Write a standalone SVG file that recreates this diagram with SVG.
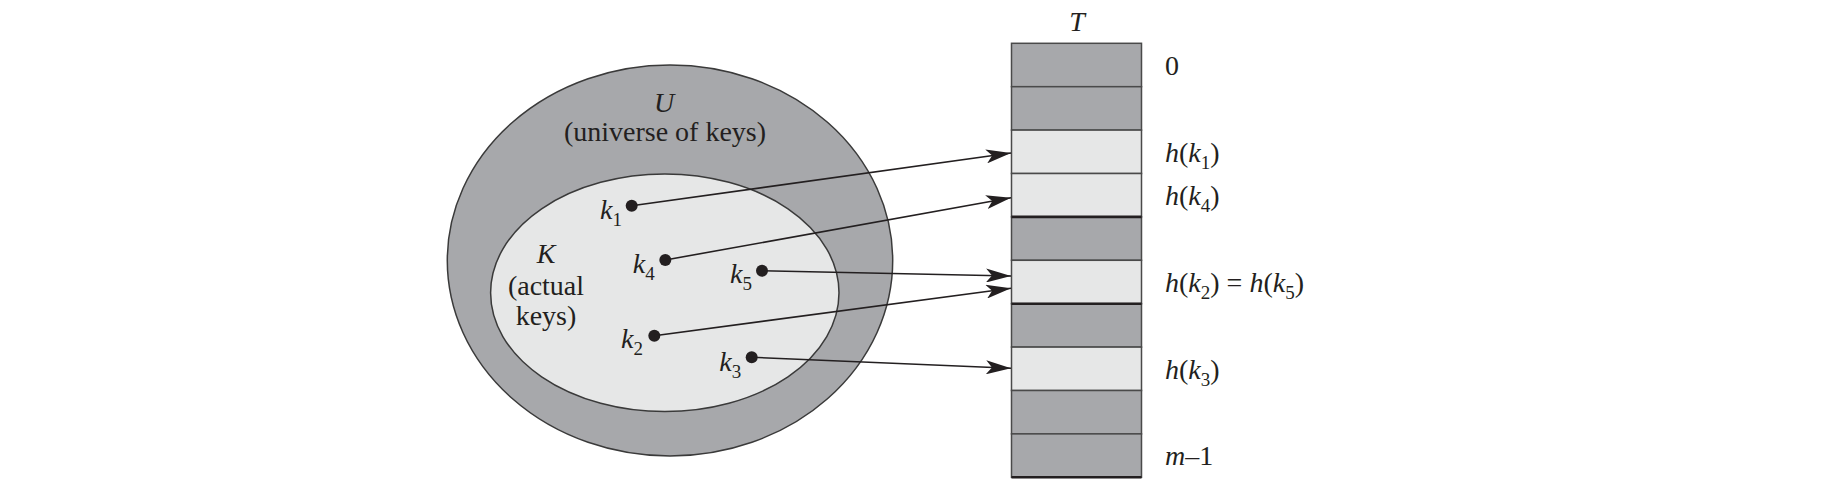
<svg xmlns="http://www.w3.org/2000/svg" width="1840" height="491" viewBox="0 0 1840 491">
<style>
.t{font-family:"Liberation Serif","Times New Roman",serif;font-size:28px;fill:#231f20}
.i{font-style:italic}
.sub{font-size:19px;font-style:normal}
.dark{fill:#a7a8ab;stroke:#4a4a4a;stroke-width:1.5}
.light{fill:#e6e7e7;stroke:#4a4a4a;stroke-width:1.5}
.thick{stroke:#231f20;stroke-width:2.6}
.conn{stroke:#231f20;stroke-width:1.6;fill:none;marker-end:url(#ah)}
.dot{fill:#231f20}
</style>
<defs>
<marker id="ah" viewBox="0 0 25 14" markerWidth="25" markerHeight="14" refX="25" refY="7" orient="auto" markerUnits="userSpaceOnUse">
<path d="M0,0 L25,7 L0,14 L6,7 Z" fill="#231f20"/>
</marker>
</defs>
<rect width="1840" height="491" fill="#ffffff"/>
<g id="universe">
<ellipse cx="670" cy="260.5" rx="222.7" ry="195.5" fill="#a7a8ab" stroke="#3a3a3a" stroke-width="1.5"/>
<text class="t i" x="664" y="112" text-anchor="middle">U</text>
<text class="t" x="665" y="141" text-anchor="middle">(universe of keys)</text>
</g>
<g id="actual-keys">
<ellipse cx="664.8" cy="292.8" rx="174.2" ry="118.8" fill="#e6e7e7" stroke="#3a3a3a" stroke-width="1.5"/>
<text class="t i" x="546" y="263" text-anchor="middle">K</text>
<text class="t" x="546" y="295" text-anchor="middle">(actual</text>
<text class="t" x="546" y="325" text-anchor="middle">keys)</text>
</g>
<g id="key-k1"><circle class="dot" cx="631.7" cy="205.7" r="6"/><text class="t i" x="600" y="219">k<tspan class="sub" dy="7">1</tspan></text></g>
<g id="key-k4"><circle class="dot" cx="665.3" cy="260" r="6"/><text class="t i" x="632.7" y="273">k<tspan class="sub" dy="7">4</tspan></text></g>
<g id="key-k5"><circle class="dot" cx="762" cy="270.7" r="6"/><text class="t i" x="730" y="283">k<tspan class="sub" dy="7">5</tspan></text></g>
<g id="key-k2"><circle class="dot" cx="654.3" cy="335.7" r="6"/><text class="t i" x="621" y="348">k<tspan class="sub" dy="7">2</tspan></text></g>
<g id="key-k3"><circle class="dot" cx="751.7" cy="357.3" r="6"/><text class="t i" x="719.3" y="371">k<tspan class="sub" dy="7">3</tspan></text></g>
<g id="table-T">
<text class="t i" x="1077" y="30.5" text-anchor="middle">T</text>
<rect class="dark" x="1011.5" y="43.3" width="130" height="43.4"/>
<rect class="dark" x="1011.5" y="86.7" width="130" height="43.4"/>
<rect class="light" x="1011.5" y="130.1" width="130" height="43.4"/>
<rect class="light" x="1011.5" y="173.5" width="130" height="43.4"/>
<rect class="dark" x="1011.5" y="216.9" width="130" height="43.4"/>
<rect class="light" x="1011.5" y="260.3" width="130" height="43.4"/>
<rect class="dark" x="1011.5" y="303.7" width="130" height="43.4"/>
<rect class="light" x="1011.5" y="347.1" width="130" height="43.4"/>
<rect class="dark" x="1011.5" y="390.5" width="130" height="43.4"/>
<rect class="dark" x="1011.5" y="433.9" width="130" height="43.4"/>
<line class="thick" x1="1011.5" y1="216.9" x2="1141.5" y2="216.9"/>
<line class="thick" x1="1011.5" y1="303.7" x2="1141.5" y2="303.7"/>
<line class="thick" x1="1011.5" y1="477.3" x2="1141.5" y2="477.3"/>
</g>
<g id="slot-labels">
<text class="t" x="1165" y="75">0</text>
<text class="t" x="1165" y="162"><tspan class="i">h</tspan>(<tspan class="i">k</tspan><tspan class="sub" dy="7">1</tspan><tspan dy="-7">)</tspan></text>
<text class="t" x="1165" y="205"><tspan class="i">h</tspan>(<tspan class="i">k</tspan><tspan class="sub" dy="7">4</tspan><tspan dy="-7">)</tspan></text>
<text class="t" x="1165" y="292"><tspan class="i">h</tspan>(<tspan class="i">k</tspan><tspan class="sub" dy="7">2</tspan><tspan dy="-7">) = </tspan><tspan class="i">h</tspan>(<tspan class="i">k</tspan><tspan class="sub" dy="7">5</tspan><tspan dy="-7">)</tspan></text>
<text class="t" x="1165" y="379"><tspan class="i">h</tspan>(<tspan class="i">k</tspan><tspan class="sub" dy="7">3</tspan><tspan dy="-7">)</tspan></text>
<text class="t" x="1165" y="465"><tspan class="i">m</tspan>–1</text>
</g>
<g id="connectors">
<line class="conn" x1="631.7" y1="205.7" x2="1011" y2="153"/>
<line class="conn" x1="665.3" y1="260" x2="1011" y2="197.7"/>
<line class="conn" x1="762" y1="270.7" x2="1011" y2="276"/>
<line class="conn" x1="654.3" y1="335.7" x2="1011" y2="288.3"/>
<line class="conn" x1="751.7" y1="357.3" x2="1011" y2="368.3"/>
</g>
</svg>
